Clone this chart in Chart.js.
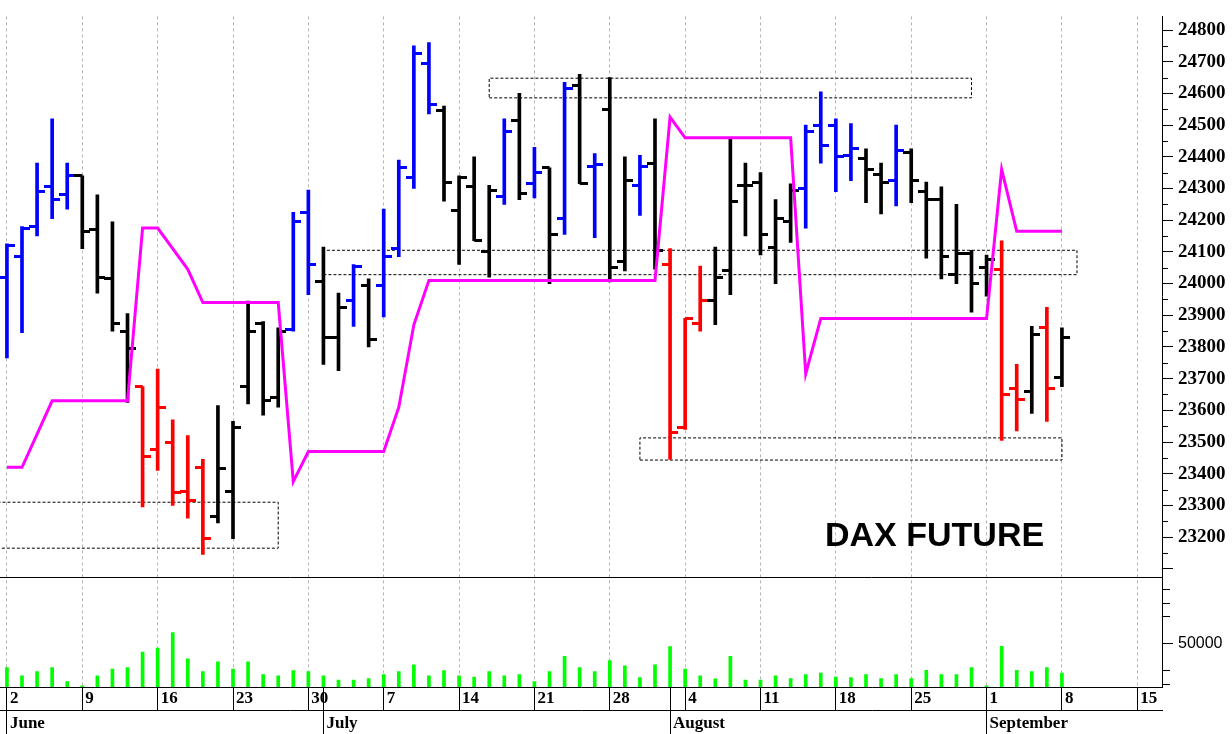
<!DOCTYPE html>
<html>
<head>
<meta charset="utf-8">
<title>DAX Future</title>
<script src="https://cdn.jsdelivr.net/npm/chart.js@4.4.1/dist/chart.umd.min.js"></script>
<style>
  html, body { margin: 0; padding: 0; background: #fff; overflow: hidden; }
  #wrap { width: 1232px; height: 734px; }
</style>
</head>
<body>
<div id="wrap"><canvas id="chart" width="1232" height="734"></canvas></div>
<script>
// trading days, index 0 = 2 June
const days = [
  'Jun 2','Jun 3','Jun 4','Jun 5','Jun 6','Jun 9','Jun 10','Jun 11','Jun 12','Jun 13',
  'Jun 16','Jun 17','Jun 18','Jun 19','Jun 20','Jun 23','Jun 24','Jun 25','Jun 26','Jun 27',
  'Jun 30','Jul 1','Jul 2','Jul 3','Jul 4','Jul 7','Jul 8','Jul 9','Jul 10','Jul 11',
  'Jul 14','Jul 15','Jul 16','Jul 17','Jul 18','Jul 21','Jul 22','Jul 23','Jul 24','Jul 25',
  'Jul 28','Jul 29','Jul 30','Jul 31','Aug 1','Aug 4','Aug 5','Aug 6','Aug 7','Aug 8',
  'Aug 11','Aug 12','Aug 13','Aug 14','Aug 15','Aug 18','Aug 19','Aug 20','Aug 21','Aug 22',
  'Aug 25','Aug 26','Aug 27','Aug 28','Aug 29','Sep 1','Sep 2','Sep 3','Sep 4','Sep 5','Sep 8'
];

const opens = [
  24020,24085,24180,24305,24280,24340,24170,24015,23850,23675,
  23475,23500,23345,23420,23265,23345,23675,23875,23640,23855,
  24225,24005,23830,23945,23995,23995,24110,24335,24695,24545,
  24230,24305,24100,24275,24515,24315,24365,24205,24625,24370,
  24550,24070,24310,24380,24060,23545,23875,23945,24040,24310,
  24320,24115,24195,24300,24500,24500,24405,24395,24345,24325,
  24415,24290,24265,24030,24095,24050,24045,23670,23660,23860,23705
];
const highs = [
  24125,24180,24380,24520,24380,24340,24280,24195,23905,23675,
  23730,23570,23520,23445,23615,23565,23945,23880,23860,24225,
  24295,24115,23970,24060,24015,24235,24390,24750,24760,24560,
  24340,24400,24310,24520,24600,24430,24365,24635,24660,24410,
  24650,24400,24405,24520,24110,23890,24055,24115,24455,24380,
  24350,24265,24315,24500,24605,24520,24505,24425,24380,24500,
  24425,24320,24305,24250,24105,24090,24135,23745,23865,23925,23860
];
const lows = [
  23765,23845,24150,24205,24235,24110,23970,23850,23625,23295,
  23410,23300,23260,23145,23245,23195,23620,23585,23610,23850,
  23965,23745,23725,23865,23800,23895,24085,24300,24535,24260,
  24060,24135,24020,24250,24265,24270,24000,24155,24315,24145,
  24005,24040,24215,24045,23445,23540,23850,23870,23965,24150,
  24090,24000,24130,24175,24380,24290,24325,24255,24220,24245,
  24255,24080,24015,24000,23910,23960,23505,23535,23590,23565,23675
];
const closes = [
  24120,24175,24290,24265,24340,24165,24020,23875,23795,23455,
  23610,23340,23315,23195,23415,23545,23850,23630,23850,24195,
  24060,23830,23925,24055,23825,24085,24365,24725,24565,24320,
  24335,24135,24295,24480,24285,24350,24155,24615,24315,24375,
  24050,24325,24370,24105,23530,23890,23945,24020,24260,24310,
  24155,24205,24295,24480,24435,24400,24425,24360,24320,24420,
  24325,24265,24085,24095,24000,24075,23650,23635,23840,23670,23830
];
// bar colour: b = blue, k = black, r = red
const barColor = [
  'b','b','b','b','b','k','k','k','k','r',
  'r','r','r','r','k','k','k','k','k','b',
  'b','k','k','b','k','b','b','b','b','k',
  'k','k','k','b','k','b','k','b','k','b',
  'k','k','b','k','r','r','r','k','k','k',
  'k','k','k','b','b','b','b','k','k','b',
  'k','k','k','k','k','k','r','r','k','r','k'
];
// magenta stop line
const stopLine = [
  23420,23420,23525,23630,23630,23630,23630,23630,23630,24175,
  24175,24110,24045,23940,23940,23940,23940,23940,23940,23375,
  23470,23470,23470,23470,23470,23470,23610,23870,24010,24010,
  24010,24010,24010,24010,24010,24010,24010,24010,24010,24010,
  24010,24010,24010,24010,24525,24460,24460,24460,24460,24460,
  24460,24460,24460,23715,23890,23890,23890,23890,23890,23890,
  23890,23890,23890,23890,23890,23890,24360,24165,24165,24165,24165
];
const volumes = [
  31900,25800,29000,31900,21700,18400,25800,30900,31900,43500,
  46400,58000,38400,29000,36200,30900,36200,26800,25800,29700,
  29000,25800,22700,22700,23900,26800,29000,34100,25800,29700,
  25800,24900,29000,25800,26800,21700,29000,40300,31900,29000,
  37200,33300,24600,34100,47600,30900,25800,23700,40300,22700,
  22700,25800,23900,26800,28000,24900,24600,26800,23900,26800,
  23900,30000,26800,26800,31900,18400,47800,30000,29000,31900,28000
];

// dotted zones (start index, end index, low, high)
const zoneStart = [-1, 21, 32, 42];
const zoneEnd   = [18, 71, 64, 70];
const zoneLow   = [23165, 24028, 24586, 23443];
const zoneHigh  = [23310, 24105, 24648, 23513];

// axis ticks
const weekStarts = [0,5,10,15,20,25,30,35,40,45,50,55,60,65,70,75];
const weekLabels = ['2','9','16','23','30','7','14','21','28','4','11','18','25','1','8','15'];
const monthStarts = [0, 21, 44, 65];
const monthLabels = ['June','July','August','September'];
const priceTicks = [23100,23200,23300,23400,23500,23600,23700,23800,23900,24000,24100,24200,24300,24400,24500,24600,24700,24800];
const volTicks = [50000];
const volMinor = [20000,30000,70000,80000,90000];

const X_MIN = -0.46, X_MAX = 76.64;
const P_MIN = 23075, P_MAX = 24843;
const V_MIN = 17600, V_MAX = 99300;

const SERIF = "'Liberation Serif', 'Times New Roman', serif";
const SANS = "'Liberation Sans', Arial, sans-serif";
const colorOf = { b: '#0000ff', k: '#000000', r: '#ff0000' };

// small canvases used as point styles for the open/close ticks
function tickImage(color, side) {
  const c = document.createElement('canvas');
  c.width = 16; c.height = 3;
  const g = c.getContext('2d');
  g.fillStyle = color;
  g.fillRect(side === 'left' ? 0 : 8, 0, 8, 3);
  return c;
}
const leftTick = {}, rightTick = {};
Object.keys(colorOf).forEach(k => {
  leftTick[k] = tickImage(colorOf[k], 'left');
  rightTick[k] = tickImage(colorOf[k], 'right');
});

const dateTicks = weekStarts.concat([21, 44]).sort((a, b) => a - b);

const datasets = [
  {
    type: 'line', data: stopLine.map((v, i) => ({ x: i, y: v })),
    borderColor: '#ff00ff', borderWidth: 3, pointRadius: 0, tension: 0,
    yAxisID: 'y', order: 0
  },
  {
    type: 'scatter', data: opens.map((v, i) => ({ x: i, y: v })),
    pointStyle: c => leftTick[barColor[c.dataIndex]], pointRadius: 4,
    yAxisID: 'y', order: 1
  },
  {
    type: 'scatter', data: closes.map((v, i) => ({ x: i, y: v })),
    pointStyle: c => rightTick[barColor[c.dataIndex]], pointRadius: 4,
    yAxisID: 'y', order: 1
  },
  {
    type: 'bar', data: highs.map((h, i) => ({ x: i, y: [lows[i], h] })),
    backgroundColor: barColor.map(c => colorOf[c]), barThickness: 3, grouped: false,
    yAxisID: 'y', order: 2
  },
  {
    type: 'bar', data: volumes.map((v, i) => ({ x: i, y: v })),
    backgroundColor: '#00ff00', barThickness: 3, grouped: false,
    yAxisID: 'yv', order: 2
  }
];

zoneStart.forEach((s, k) => {
  const e = zoneEnd[k], lo = zoneLow[k], hi = zoneHigh[k];
  datasets.push({
    type: 'line',
    data: [{ x: s, y: lo }, { x: e, y: lo }, { x: e, y: hi }, { x: s, y: hi }, { x: s, y: lo }],
    borderColor: '#000', borderWidth: 1, borderDash: [3, 2], pointRadius: 0,
    yAxisID: 'y', order: 3
  });
});

// pane divider, minor axis ticks and the title text
const extras = {
  id: 'extras',
  afterDraw(chart) {
    const { ctx, chartArea, scales } = chart;
    ctx.save();
    ctx.strokeStyle = '#000';
    ctx.lineWidth = 1;
    ctx.beginPath();
    const yb = Math.round(scales.y.bottom) + 0.5;
    ctx.moveTo(chartArea.left, yb);
    ctx.lineTo(chartArea.right, yb);
    const ax = scales.y.left;
    for (let v = 23150; v <= 24800; v += 100) {
      const py = Math.round(scales.y.getPixelForValue(v)) + 0.5;
      ctx.moveTo(ax, py); ctx.lineTo(ax + 6, py);
    }
    volMinor.forEach(v => {
      const py = Math.round(scales.yv.getPixelForValue(v)) + 0.5;
      ctx.moveTo(ax, py); ctx.lineTo(ax + 8, py);
    });
    ctx.stroke();
    ctx.fillStyle = '#000';
    ctx.font = 'bold 34px ' + SANS;
    ctx.textBaseline = 'alphabetic';
    ctx.fillText('DAX FUTURE', chartArea.left + 825, 546);
    ctx.restore();
  }
};

new Chart(document.getElementById('chart'), {
  type: 'bar',
  data: { labels: days, datasets: datasets },
  options: {
    responsive: false,
    animation: false,
    events: [],
    layout: { padding: 0, autoPadding: false },
    plugins: { legend: { display: false }, tooltip: { enabled: false } },
    scales: {
      x: {
        type: 'linear', position: 'bottom', min: X_MIN, max: X_MAX, offset: false,
        afterBuildTicks: s => { s.ticks = dateTicks.map(v => ({ value: v })); },
        afterFit: s => { s.height = 23; },
        grid: {
          offset: false,
          color: c => weekStarts.includes(c.tick && c.tick.value) ? '#b4b4b4' : 'rgba(0,0,0,0)',
          tickColor: '#000', tickLength: 23, tickBorderDash: [], lineWidth: 1
        },
        border: { display: true, color: '#000', dash: [3, 3] },
        ticks: {
          autoSkip: false, maxRotation: 0, minRotation: 0, align: 'start',
          labelOffset: 3, padding: -22, color: '#000',
          font: { family: SERIF, weight: 'bold', size: 17 },
          callback: v => {
            const k = weekStarts.indexOf(v);
            return k >= 0 ? weekLabels[k] : '';
          }
        }
      },
      x2: {
        type: 'linear', position: 'bottom', min: X_MIN, max: X_MAX, offset: false,
        afterBuildTicks: s => { s.ticks = monthStarts.map(v => ({ value: v })); },
        afterFit: s => { s.height = 24; },
        grid: { offset: false, drawOnChartArea: false, tickColor: '#000', tickLength: 24 },
        border: { display: true, color: '#000' },
        ticks: {
          autoSkip: false, maxRotation: 0, minRotation: 0, align: 'start',
          labelOffset: 3, padding: -21, color: '#000',
          font: { family: SERIF, weight: 'bold', size: 17 },
          callback: v => monthLabels[monthStarts.indexOf(v)]
        }
      },
      y: {
        type: 'linear', position: 'right', stack: 'panes', stackWeight: 574,
        min: P_MIN, max: P_MAX,
        afterBuildTicks: s => { s.ticks = priceTicks.map(v => ({ value: v })); },
        afterFit: s => { s.width = 70; },
        grid: { drawOnChartArea: false, tickColor: '#000', tickLength: 11 },
        border: { display: true, color: '#000' },
        ticks: {
          autoSkip: false, padding: 5, color: '#000',
          font: { family: SERIF, weight: 'bold', size: 19 },
          callback: v => (v >= 23200 ? String(v) : '')
        }
      },
      yv: {
        type: 'linear', position: 'right', stack: 'panes', stackWeight: 113,
        min: V_MIN, max: V_MAX,
        afterBuildTicks: s => { s.ticks = volTicks.map(v => ({ value: v })); },
        afterFit: s => { s.width = 70; },
        grid: { drawOnChartArea: false, tickColor: '#000', tickLength: 11 },
        border: { display: true, color: '#000' },
        ticks: {
          autoSkip: false, padding: 5, color: '#000',
          font: { family: SANS, size: 16 },
          callback: v => String(v)
        }
      }
    }
  },
  plugins: [extras]
});
</script>
</body>
</html>
